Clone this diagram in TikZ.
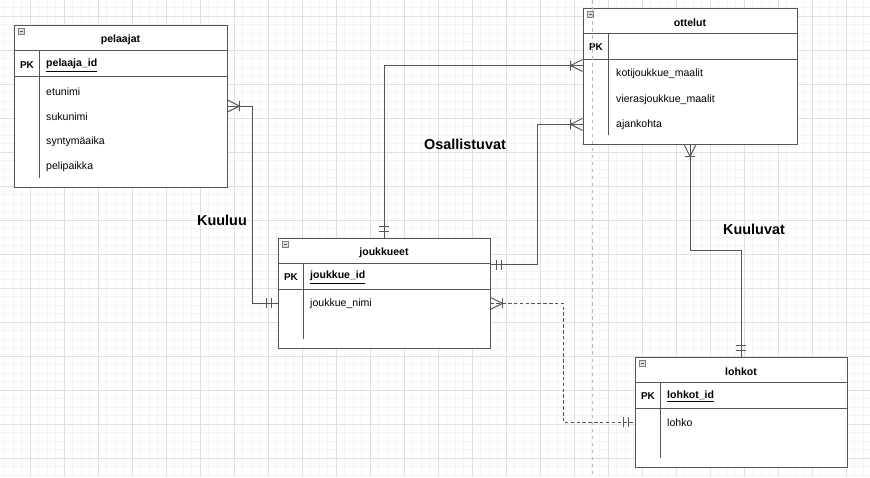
\documentclass[tikz,border=0pt]{standalone}
\usepackage{fontspec}
\setmainfont{Liberation Sans}
\usetikzlibrary{calc}
\usetikzlibrary{fit}
\definecolor{linegray}{RGB}{85,85,85}
\definecolor{gridminor}{RGB}{244,244,244}
\definecolor{gridmajor}{RGB}{224,224,224}
\definecolor{pagegray}{RGB}{185,185,185}

\begin{document}
\begin{tikzpicture}[x=0.03cm, y=-0.03cm,
    tbl/.style={draw=linegray, fill=white, line width=0.8pt, inner sep=0pt},
    divline/.style={draw=linegray, line width=0.8pt},
    conn/.style={draw=linegray, line width=0.8pt},
    ttl/.style={inner sep=0pt, yshift=-1.2pt, font=\fontsize{9}{11}\selectfont\bfseries},
    pk/.style={inner sep=0pt, yshift=-1.2pt, font=\fontsize{8.5}{10}\selectfont\bfseries},
    fld/.style={anchor=west, inner sep=0pt, yshift=-1.2pt, font=\fontsize{9}{11}\selectfont},
    rel/.style={inner sep=0pt, font=\fontsize{12.3}{14}\selectfont\bfseries},
    crowfoot/.pic={\draw[conn] (0,-6) -- (12,0) -- (0,6) (12,-5) -- (12,5);},
    mandone/.pic={\draw[conn] (6,-5) -- (6,5) (11,-5) -- (11,5);}]
                \useasboundingbox (0,0) rectangle (870,477);
                \fill[white] (0,0) rectangle (870,477);

                % grid
                \foreach \x in {4.8,13.3,...,870} \draw[gridminor, line width=0.6pt] (\x,0) -- (\x,477);
                \foreach \y in {7.8,16.3,...,477} \draw[gridminor, line width=0.6pt] (0,\y) -- (870,\y);
                \foreach \x in {30.3,64.3,...,870} \draw[gridmajor, line width=0.6pt] (\x,0) -- (\x,477);
                \foreach \y in {16.3,50.3,...,477} \draw[gridmajor, line width=0.6pt] (0,\y) -- (870,\y);

                % tables
                \node[tbl, fit={(14,25) (227,187)}] (pelaajat) {};
                \node[tbl, fit={(583,8) (797,144)}] (ottelut) {};
                \node[tbl, fit={(278,238) (490,348)}] (joukkueet) {};
                \node[tbl, fit={(635,357) (847,467)}] (lohkot) {};

                \foreach \t in {pelaajat,ottelut,joukkueet,lohkot} {
                    \draw[divline] ($(\t.north west)+(0,26)$) -- ($(\t.north east)+(0,26)$);
                    \draw[divline] ($(\t.north west)+(0,52)$) -- ($(\t.north east)+(0,52)$);
                    \draw[divline] ($(\t.north west)+(26,26)$) -- ($(\t.south west)+(26,-9)$);
                    \draw[draw=gray, fill=gray!25, line width=0.5pt] ($(\t.north west)+(5,4)$) rectangle ++(6,6);
                    \draw[linegray, line width=0.8pt] ($(\t.north west)+(6.5,7)$) -- ++(3,0);
                }

                \node[ttl] (pelaajatT) at (120.5,38) {pelaajat};
                \node[pk] (pelaajatPK) at (27,64) {PK};
                \node[fld] (pelaajaid) at (46,64) {\bfseries\underline{pelaaja\_id}};
                \node[fld] (etunimi) at (46,90) {etunimi};
                \node[fld] (sukunimi) at (46,115) {sukunimi};
                \node[fld] (syntymaaika) at (46,140) {syntymäaika};
                \node[fld] (pelipaikka) at (46,165) {pelipaikka};

                \node[ttl] (otteluT) at (690,21) {ottelut};
                \node[pk] (otteluPK) at (596,46) {PK};
                \node[fld] (kotimaalit) at (616,72) {kotijoukkue\_maalit};
                \node[fld] (vierasmaalit) at (616,98) {vierasjoukkue\_maalit};
                \node[fld] (ajankohta) at (616,123) {ajankohta};

                \node[ttl] (joukkueetT) at (384,251) {joukkueet};
                \node[pk] (joukkueetPK) at (291,276) {PK};
                \node[fld] (joukkueid) at (310,276) {\bfseries\underline{joukkue\_id}};
                \node[fld] (joukkuenimi) at (310,302) {joukkue\_nimi};

                \node[ttl] (lohkotT) at (741,370) {lohkot};
                \node[pk] (lohkotPK) at (648,395) {PK};
                \node[fld] (lohkotid) at (667,395) {\bfseries\underline{lohkot\_id}};
                \node[fld] (lohko) at (667,421) {lohko};

                % relations
                \node[rel] (kuuluu) at (222,220) {Kuuluu};
                \node[rel] (osallistuvat) at (465,144) {Osallistuvat};
                \node[rel] (kuuluvat) at (754,229) {Kuuluvat};

                \draw[conn] (pelaajat.east) -- ++(25,0) |- (joukkueet.west |- joukkuenimi);
                \draw[conn] (joukkueet.north) |- ($(ottelut.north west)+(0,58)$);
                \draw[conn] ($(joukkueet.north east)+(0,27)$) -- ++(47,0) |- (ottelut.west |- ajankohta);
                \draw[conn] (ottelut.south) -- ++(0,106) -| (lohkot.north);
                \draw[conn, dash pattern=on 3pt off 2pt] (joukkueet.east |- joukkuenimi) -- ++(73,0) |- (lohkot.west |- lohko);

                \pic at (pelaajat.east) {crowfoot};
                \pic[rotate=180] at (joukkueet.west |- joukkuenimi) {mandone};
                \pic[rotate=90] at (joukkueet.north) {mandone};
                \pic[rotate=180] at ($(ottelut.north west)+(0,58)$) {crowfoot};
                \pic at ($(joukkueet.north east)+(0,27)$) {mandone};
                \pic[rotate=180] at (ottelut.west |- ajankohta) {crowfoot};
                \pic[rotate=-90] at (ottelut.south) {crowfoot};
                \pic[rotate=90] at (lohkot.north) {mandone};
                \pic at (joukkueet.east |- joukkuenimi) {crowfoot};
                \pic[rotate=180] at (lohkot.west |- lohko) {mandone};

                % page break
                \draw[pagegray, line width=0.6pt, dash pattern=on 3pt off 3pt] (592,0) -- (592,477);
            \end{tikzpicture}
\end{document}
